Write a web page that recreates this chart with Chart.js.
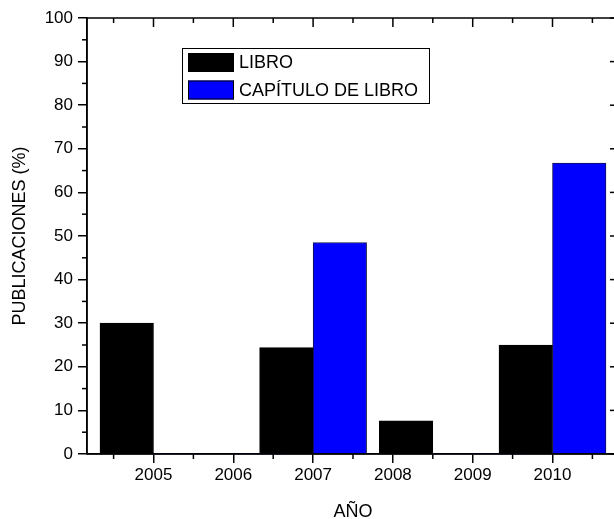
<!DOCTYPE html>
<html><head><meta charset="utf-8">
<script src="https://cdn.jsdelivr.net/npm/chart.js@4"></script>
<style>
html,body{margin:0;padding:0;overflow:hidden;background:#fff;width:614px;height:519px}
#wrap{width:632px;height:519px;position:relative}
canvas{display:block}
</style></head><body><div id="wrap"><canvas id="c" width="632" height="519"></canvas></div>
<script>
// ---- data ----
const years = [2005, 2006, 2007, 2008, 2009, 2010];          // x tick labels
const barCenters = [2005, 2006, 2007, 2008.5, 2009, 2010];   // where each year's bar pair sits on the year axis
const libro = [30, 0, 24.4, 7.6, 0, 25];
const capitulo = [0, 0, 48.5, 0, 0, 66.7];
const yTicks = [0, 10, 20, 30, 40, 50, 60, 70, 80, 90, 100];
const seriesNames = ['LIBRO', 'CAPÍTULO DE LIBRO'];
const xTitle = 'AÑO';
const yTitle = 'PUBLICACIONES (%)';

const FONT = "Arial, 'Liberation Sans', sans-serif";
const seriesColors = ['#000000', '#0000ff'];
const seriesBorders = ['#000000', '#141450'];

function toPoints(vals){ return barCenters.map((x, i) => ({x: x, y: vals[i]})); }

const framePlugin = {
  id: 'frame',
  afterDatasetsDraw(chart){
    const {ctx, chartArea: a, scales: {x, y}} = chart;
    ctx.save();
    ctx.strokeStyle = '#000';
    ctx.lineWidth = 1.5;
    const seg = (x1, y1, x2, y2) => { ctx.beginPath(); ctx.moveTo(x1, y1); ctx.lineTo(x2, y2); ctx.stroke(); };
    ctx.beginPath();
    ctx.moveTo(a.left, a.bottom); ctx.lineTo(a.left, a.top); ctx.lineTo(a.right, a.top);
    ctx.lineTo(a.right, a.bottom); ctx.lineTo(a.left, a.bottom); ctx.stroke();
    const xv = x.ticks.map(t => t.value);
    xv.forEach(v => { const p = x.getPixelForValue(v); seg(p, a.top, p, a.top + 9); });
    const xm = [xv[0] - 0.5].concat(xv.map(v => v + 0.5)).filter(v => v > x.min && v < x.max);
    xm.forEach(v => { const p = x.getPixelForValue(v); seg(p, a.bottom, p, a.bottom + 5); seg(p, a.top, p, a.top + 5); });
    const yv = y.ticks.map(t => t.value);
    yv.forEach(v => { const p = y.getPixelForValue(v); seg(a.right - 9, p, a.right, p); });
    const ym = yv.slice(0, -1).map(v => v + 5).filter(v => v > y.min && v < y.max);
    ym.forEach(v => { const p = y.getPixelForValue(v); seg(a.left - 5, p, a.left, p); seg(a.right - 5, p, a.right, p); });
    ctx.restore();
  }
};

const legendPlugin = {
  id: 'boxLegend',
  afterDraw(chart){
    const {ctx, chartArea: a} = chart;
    const bx = a.left + 95, by = a.top + 30, bw = 247, bh = 55;
    ctx.save();
    ctx.fillStyle = '#fff';
    ctx.fillRect(bx, by, bw, bh);
    ctx.strokeStyle = '#000';
    ctx.lineWidth = 1;
    ctx.strokeRect(bx + 0.5, by + 0.5, bw, bh);
    ctx.font = '18px ' + FONT;
    ctx.textBaseline = 'middle';
    ctx.textAlign = 'left';
    chart.data.datasets.forEach((ds, i) => {
      const cy = by + 14.5 + i * 27.5;
      ctx.fillStyle = ds.backgroundColor;
      ctx.fillRect(bx + 6, cy - 9.5, 46, 19);
      ctx.strokeStyle = '#000';
      ctx.strokeRect(bx + 6.5, cy - 9, 45, 18);
      ctx.fillStyle = '#000';
      ctx.fillText(ds.label, bx + 57, cy + 1);
    });
    ctx.restore();
  }
};

new Chart(document.getElementById('c'), {
  type: 'bar',
  data: {
    datasets: [
      {label: seriesNames[0], data: toPoints(libro), backgroundColor: seriesColors[0], borderColor: seriesBorders[0],
       borderWidth: c => (c.raw && c.raw.y ? 1 : 0), barThickness: 53.5, borderSkipped: 'start'},
      {label: seriesNames[1], data: toPoints(capitulo), backgroundColor: seriesColors[1], borderColor: seriesBorders[1],
       borderWidth: c => (c.raw && c.raw.y ? 1 : 0), barThickness: 53.5, borderSkipped: 'start'}
    ]
  },
  options: {
    responsive: false,
    animation: false,
    devicePixelRatio: 1,
    layout: {padding: {top: 18, right: 13, left: 0, bottom: 0}},
    plugins: {legend: {display: false}, tooltip: {enabled: false}},
    scales: {
      x: {
        type: 'linear', position: 'bottom', offset: false,
        min: 2004.1667, max: 2010.8333,
        afterBuildTicks: s => { s.ticks = years.map(v => ({value: v})); },
        afterFit: s => { s.height = 65; },
        ticks: {color: '#000', font: {family: FONT, size: 17}, padding: 2, maxRotation: 0, autoSkip: false,
                callback: v => String(v)},
        grid: {offset: false, drawOnChartArea: false, drawTicks: true, tickLength: 9, color: '#000', lineWidth: 1.5},
        border: {display: true, color: '#000', width: 1.5},
        title: {display: true, text: xTitle, color: '#000', font: {family: FONT, size: 18, lineHeight: 1},
                padding: {top: 0, bottom: -2}}
      },
      y: {
        min: 0, max: 100,
        afterBuildTicks: s => { s.ticks = yTicks.map(v => ({value: v})); },
        afterFit: s => { s.width = 87; },
        ticks: {color: '#000', font: {family: FONT, size: 17}, padding: 5},
        grid: {drawOnChartArea: false, drawTicks: true, tickLength: 9, color: '#000', lineWidth: 1.5},
        border: {display: true, color: '#000', width: 1.5},
        title: {display: true, text: yTitle, color: '#000', font: {family: FONT, size: 18, lineHeight: 1},
                padding: {top: 11, bottom: 0}}
      }
    }
  },
  plugins: [framePlugin, legendPlugin]
});
</script>
</body></html>
